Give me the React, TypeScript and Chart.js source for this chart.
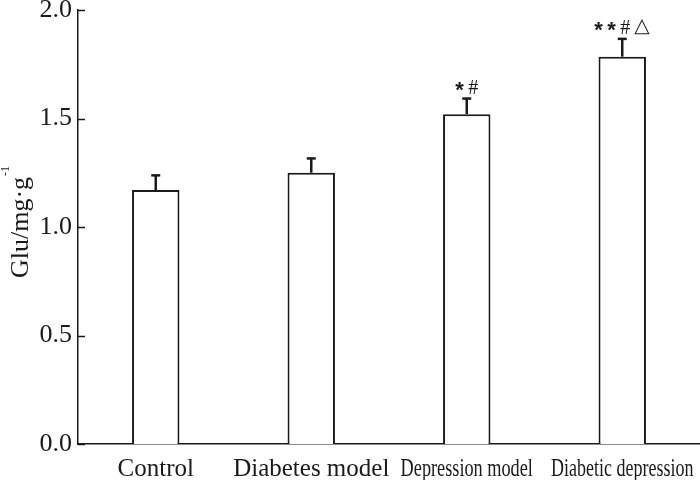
import React, { useEffect, useRef } from "react";
import { Chart, registerables } from "chart.js";

Chart.register(...registerables);

const categories = ["Control", "Diabetes model", "Depression model", "Diabetic depression"];
const gluValues = [1.17, 1.25, 1.52, 1.785];
const gluErrors = [0.068, 0.066, 0.072, 0.082];
const significance = ["", "", "*#", "**#△"];
const yTickValues = [0, 0.5, 1.0, 1.5, 2.0];
const yTitleMain = "Glu/mg·g";
const yTitleSup = "-1";

const labelCondense = [1, 1, 0.73, 0.72];
const INK = "#1a1a1a";
const SERIF = "'Liberation Serif', 'Times New Roman', serif";

const overlayPlugin = {
  id: "overlay",
  afterDatasetsDraw(chart: any) {
    const ctx = chart.ctx;
    const xs = chart.scales.x;
    const ys = chart.scales.y;
    const area = chart.chartArea;
    ctx.save();
    ctx.strokeStyle = INK;
    ctx.fillStyle = INK;

    // inward y ticks
    ctx.lineWidth = 1.5;
    yTickValues.forEach((v) => {
      const py = Math.round(ys.getPixelForValue(v)) + 0.5;
      ctx.beginPath();
      ctx.moveTo(area.left, py);
      ctx.lineTo(area.left + 7, py);
      ctx.stroke();
    });

    // error bars
    gluValues.forEach((v, i) => {
      const cx = xs.getPixelForValue(i);
      const top = ys.getPixelForValue(v);
      const cap = ys.getPixelForValue(v + gluErrors[i]);
      ctx.lineWidth = 2.5;
      ctx.beginPath();
      ctx.moveTo(cx, top);
      ctx.lineTo(cx, cap);
      ctx.stroke();
      ctx.beginPath();
      ctx.moveTo(cx - 4.5, cap);
      ctx.lineTo(cx + 4.5, cap);
      ctx.stroke();
    });

    // significance marks
    const fontFor = (ch: string) => {
      if (ch === "*") return "bold 22px 'Liberation Sans', Arial, sans-serif";
      if (ch === "#") return "20px " + SERIF;
      return "20px 'DejaVu Sans', sans-serif";
    };
    significance.forEach((s, i) => {
      if (!s) return;
      const cx = xs.getPixelForValue(i);
      const cy = ys.getPixelForValue(gluValues[i] + gluErrors[i]) - 12;
      const gap = 4;
      const pieces = [...s].map((ch) => {
        ctx.font = fontFor(ch);
        const m = ctx.measureText(ch);
        return { ch, font: fontFor(ch), m, w: m.actualBoundingBoxLeft + m.actualBoundingBoxRight };
      });
      const total = pieces.reduce((a, p) => a + p.w, 0) + gap * (pieces.length - 1);
      let x = cx - total / 2;
      ctx.textAlign = "left";
      ctx.textBaseline = "alphabetic";
      pieces.forEach((p) => {
        ctx.font = p.font;
        const by = cy + (p.m.actualBoundingBoxAscent - p.m.actualBoundingBoxDescent) / 2;
        ctx.fillText(p.ch, x + p.m.actualBoundingBoxLeft, by);
        x += p.w + gap;
      });
    });

    // x labels
    ctx.font = "25px " + SERIF;
    ctx.textAlign = "center";
    ctx.textBaseline = "alphabetic";
    categories.forEach((c, i) => {
      const cx = xs.getPixelForValue(i);
      ctx.save();
      ctx.translate(cx, area.bottom + 32);
      ctx.scale(labelCondense[i], 1);
      ctx.fillText(c, 0, 0);
      ctx.restore();
    });

    // y title with superscript
    ctx.save();
    ctx.translate(28, (area.top + area.bottom) / 2 + 51);
    ctx.rotate(-Math.PI / 2);
    ctx.textAlign = "left";
    ctx.font = "26px " + SERIF;
    ctx.fillText(yTitleMain, 0, 0);
    const w = ctx.measureText(yTitleMain).width;
    ctx.font = "12px " + SERIF;
    ctx.fillText(yTitleSup, w + 1, -19);
    ctx.restore();

    ctx.restore();
  },
};

export default function App() {
  const ref = useRef<HTMLCanvasElement | null>(null);
  useEffect(() => {
    document.body.style.margin = "0";
    const canvas = ref.current;
    if (!canvas) return;
    const chart = new Chart(canvas, {
      type: "bar",
      data: {
        labels: categories,
        datasets: [
          {
            data: gluValues,
            backgroundColor: "#ffffff",
            borderColor: INK,
            borderWidth: 2,
            barPercentage: 0.305,
            categoryPercentage: 1,
          },
        ],
      },
      options: {
        animation: false,
        responsive: false,
        devicePixelRatio: 1,
        layout: { padding: { top: 10, right: 0, bottom: 0, left: 0 } },
        plugins: { legend: { display: false }, tooltip: { enabled: false } },
        scales: {
          x: {
            type: "category",
            offset: true,
            grid: { display: false, drawTicks: false },
            border: { display: true, color: INK, width: 1.5 },
            ticks: { display: false },
            afterFit(scale: any) {
              scale.height = 36;
              scale.paddingLeft = 0;
              scale.paddingRight = 0;
            },
          },
          y: {
            min: 0,
            max: 2,
            grid: { display: false, drawTicks: false },
            border: { display: true, color: INK, width: 1.5 },
            afterBuildTicks(scale: any) {
              scale.ticks = yTickValues.map((v) => ({ value: v }));
            },
            ticks: {
              padding: 6,
              color: INK,
              font: { family: SERIF, size: 26 },
              callback: (v: any) => Number(v).toFixed(1),
            },
            afterFit(scale: any) {
              scale.width = 78;
              scale.paddingTop = 0;
              scale.paddingBottom = 0;
            },
          },
        },
      },
      plugins: [overlayPlugin],
    } as any);
    return () => chart.destroy();
  }, []);
  return (
    <div style={{ width: 700, height: 480, background: "#fff" }}>
      <canvas ref={ref} width={700} height={480} />
    </div>
  );
}
